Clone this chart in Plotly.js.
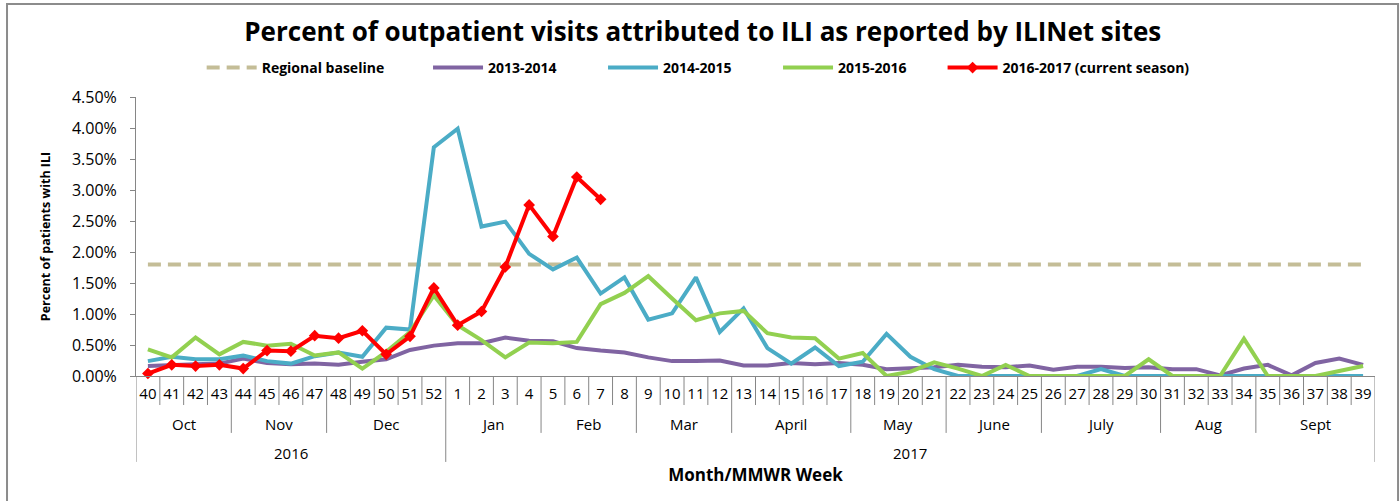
<!DOCTYPE html>
<html>
<head>
<meta charset="utf-8">
<script src="https://cdn.plot.ly/plotly-3.0.1.min.js"></script>
<style>html,body{margin:0;padding:0;background:#fff;}#chart{width:1400px;height:501px;}</style>
</head>
<body>
<div id="chart"></div>
<script>
// ---- data ----
const weeks = ['40','41','42','43','44','45','46','47','48','49','50','51','52',
  '1','2','3','4','5','6','7','8','9','10','11','12','13','14','15','16','17','18','19','20',
  '21','22','23','24','25','26','27','28','29','30','31','32','33','34','35','36','37','38','39'];
const months = ['Oct','Nov','Dec','Jan','Feb','Mar','April','May','June','July','Aug','Sept'];
const monthWeekCounts = [4,4,5,4,4,4,5,4,4,5,4,5];
const years = ['2016','2017'];
const yearWeekCounts = [13,39];
const baselineValue = 1.80;
const s2013_2014 = [0.16,0.18,0.19,0.20,0.28,0.21,0.19,0.20,0.18,0.23,0.27,0.42,0.49,
  0.53,0.53,0.62,0.57,0.56,0.45,0.41,0.38,0.30,0.24,0.24,0.25,0.17,0.17,0.21,0.19,0.21,0.18,0.11,0.12,
  0.14,0.18,0.15,0.14,0.17,0.10,0.15,0.15,0.13,0.14,0.11,0.11,0.01,0.12,0.18,0.01,0.21,0.28,0.18];
const s2014_2015 = [0.24,0.31,0.27,0.27,0.33,0.24,0.20,0.32,0.38,0.31,0.78,0.75,3.69,
  3.99,2.41,2.49,1.97,1.72,1.91,1.33,1.59,0.91,1.01,1.59,0.71,1.09,0.45,0.20,0.46,0.16,0.23,0.68,0.31,
  0.11,0.00,0.00,0.00,0.00,0.00,0.00,0.11,0.00,0.00,0.00,0.00,0.00,0.00,0.00,0.00,0.00,0.00,0.00];
const s2015_2016 = [0.43,0.30,0.62,0.35,0.55,0.49,0.52,0.33,0.38,0.12,0.39,0.71,1.30,
  0.82,0.58,0.30,0.54,0.53,0.55,1.16,1.34,1.61,1.25,0.90,1.01,1.05,0.69,0.62,0.61,0.28,0.37,0.00,0.07,
  0.22,0.12,0.00,0.18,0.00,0.00,0.00,0.00,0.00,0.27,0.00,0.00,0.00,0.60,0.00,0.00,0.00,0.08,0.16];
const s2016_2017 = [0.04,0.18,0.16,0.18,0.12,0.41,0.40,0.65,0.61,0.73,0.35,0.64,1.42,
  0.82,1.04,1.76,2.76,2.25,3.21,2.85];

// ---- styling ----
const FONT = 'Open Sans, Noto Sans, sans-serif';
const NARROW = 'Liberation Sans Narrow, Open Sans, sans-serif';
const AXIS_GRAY = '#868686';

const traces = [
  {name:'Regional baseline', x:[weeks[0], weeks[weeks.length-1]], y:[baselineValue, baselineValue],
   mode:'lines', line:{color:'#C4BD97', width:4, dash:'13px,7px'}, legend:'legend', cliponaxis:false},
  {name:'2013-2014', x:weeks, y:s2013_2014, mode:'lines', line:{color:'#8064A2', width:4}, legend:'legend2', cliponaxis:false},
  {name:'2014-2015', x:weeks, y:s2014_2015, mode:'lines', line:{color:'#4BACC6', width:4}, legend:'legend2', cliponaxis:false},
  {name:'2015-2016', x:weeks, y:s2015_2016, mode:'lines', line:{color:'#92D050', width:4}, legend:'legend2', cliponaxis:false},
  {name:'2016-2017 (current season)', x:weeks.slice(0, s2016_2017.length), y:s2016_2017, mode:'lines+markers',
   line:{color:'#FF0000', width:4}, marker:{symbol:'diamond', size:9, color:'#FF0000'}, legend:'legend3', cliponaxis:false}
];

// category separators (weeks / months / years)
const monthBounds = [0]; monthWeekCounts.forEach(c => monthBounds.push(monthBounds[monthBounds.length-1] + c));
const yearBounds = [0]; yearWeekCounts.forEach(c => yearBounds.push(yearBounds[yearBounds.length-1] + c));
const shapes = [];
for (let k = 0; k <= weeks.length; k++) {
  let depth = -0.104;
  if (yearBounds.includes(k)) depth = -0.308;
  else if (monthBounds.includes(k)) depth = -0.204;
  shapes.push({type:'line', xref:'x', yref:'paper', x0:k-0.5, x1:k-0.5, y0:0, y1:depth,
    line:{color:AXIS_GRAY, width:1}});
}
// chart frame
shapes.push({type:'rect', xref:'paper', yref:'paper', x0:-0.1041, x1:1.0186, y0:-0.52, y1:1.3333,
  line:{color:'#8c8c8c', width:2}, fillcolor:'rgba(0,0,0,0)'});

const annotations = [];
months.forEach((m, i) => {
  annotations.push({text:m, xref:'x', yref:'paper', x:monthBounds[i] + (monthWeekCounts[i]-1)/2, y:-0.172,
    yanchor:'middle', showarrow:false, font:{family:FONT, size:15, color:'#000'}});
});
years.forEach((yv, i) => {
  annotations.push({text:yv, xref:'x', yref:'paper', x:yearBounds[i] + (yearWeekCounts[i]-1)/2, y:-0.276,
    yanchor:'middle', showarrow:false, font:{family:FONT, size:15, color:'#000'}});
});

const legendCommon = {orientation:'h', yanchor:'middle', y:1.104, xanchor:'left',
  font:{family:FONT, size:14, color:'#000', weight:'bold'}, bgcolor:'rgba(0,0,0,0)', itemwidth:50,
  tracegroupgap:0};

const layout = {
  width:1400, height:501,
  margin:{l:136, r:25, t:97, b:125},
  paper_bgcolor:'#fff', plot_bgcolor:'#fff',
  font:{family:FONT, color:'#000'},
  title:{text:'Percent of outpatient visits attributed to ILI as reported by ILINet sites',
    font:{family:FONT, size:26, color:'#000', weight:'bold'}, xref:'container', x:0.502, y:0.936, yanchor:'middle'},
  showlegend:true,
  legend:Object.assign({}, legendCommon, {x:0.053}),
  legend2:Object.assign({}, legendCommon, {x:0.2357, entrywidth:110}),
  legend3:Object.assign({}, legendCommon, {x:0.6510}),
  xaxis:{type:'category', categoryorder:'array', categoryarray:weeks, range:[-0.5, weeks.length-0.5],
    tickmode:'array', tickvals:weeks, ticktext:weeks, ticks:'', tickangle:0,
    showline:true, linecolor:AXIS_GRAY, linewidth:1, showgrid:false, zeroline:false,
    tickfont:{family:FONT, size:15, color:'#000'}, ticklabelstandoff:4, automargin:false, fixedrange:true,
    title:{text:'Month/MMWR Week', font:{family:FONT, size:17, color:'#000', weight:'bold'}, standoff:67}},
  yaxis:{range:[0,4.5], tick0:0, dtick:0.5, tickformat:'.2f', ticksuffix:'%',
    showline:true, linecolor:AXIS_GRAY, linewidth:1, ticks:'outside', ticklen:5, tickcolor:AXIS_GRAY,
    showgrid:false, zeroline:false, tickfont:{family:FONT, size:16, color:'#000'}, ticklabelstandoff:10,
    automargin:false, fixedrange:true,
    title:{text:'Percent of patients with ILI', font:{family:NARROW, size:12.5, color:'#000', weight:'bold'}, standoff:18}},
  shapes:shapes,
  annotations:annotations
};

Plotly.newPlot('chart', traces, layout, {displayModeBar:false, staticPlot:true});
</script>
</body>
</html>
